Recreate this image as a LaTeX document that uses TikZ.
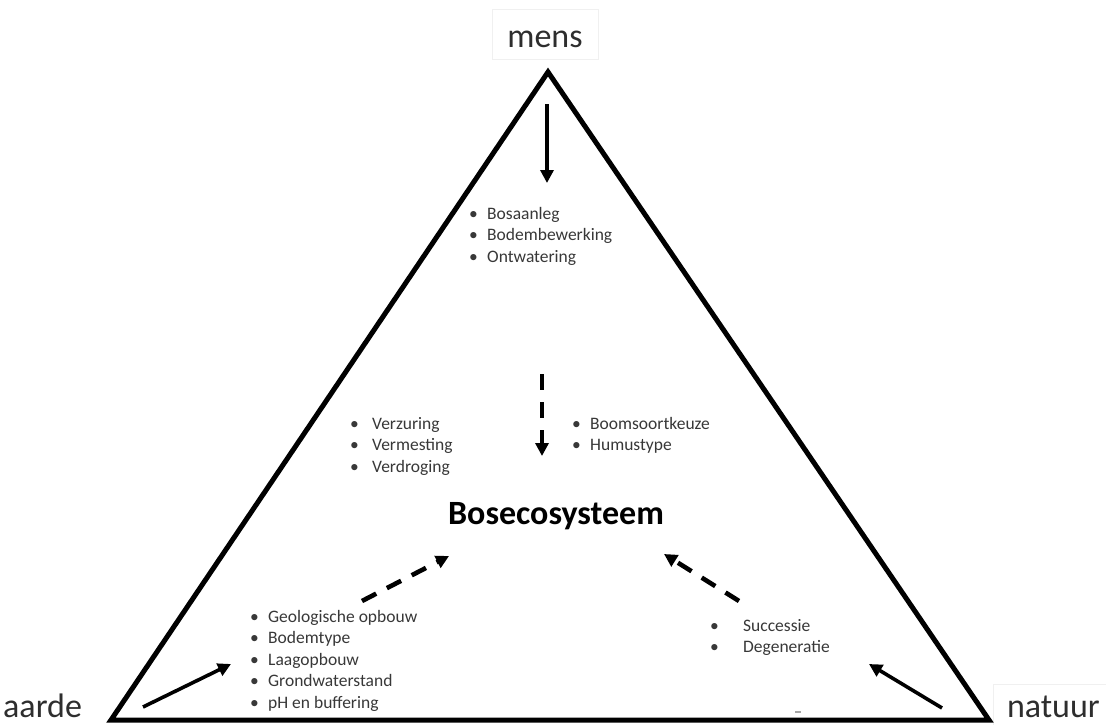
\documentclass[tikz,border=0pt]{standalone}
\usepackage{fontspec}
\setmainfont{Carlito}
\usetikzlibrary{arrows.meta}
\newcommand\bl[1]{\makebox[#1pt][l]{\textbullet}}
\tikzset{
  tri/.style={line width=5pt, line join=miter},
  solidarrow/.style={line width=3.6pt, -{Triangle[length=13pt,width=13pt]}},
  dasharrow/.style={line width=4.6pt, dash pattern=on 16pt off 12pt, -{Triangle[length=13pt,width=13pt]}},
  biglabel/.style={inner sep=0pt, text=black!82, font=\fontsize{34}{40}\selectfont},
  listtxt/.style={inner sep=0pt, text=black!78, font=\fontsize{17.5}{21.5}\selectfont, anchor=base west},
  faintbox/.style={draw=black!6, line width=1pt}
}
\begin{document}
\begin{tikzpicture}[x=1pt,y=-1pt]
\useasboundingbox[fill=white] (0,0) rectangle (1106,725);
% faint boxes around labels
\draw[faintbox] (492,10) rectangle (598,60);
\draw[faintbox] (993,684) rectangle (1106,725);
% triangle
\coordinate (top) at (548,72);
\coordinate (bl) at (111,720);
\coordinate (br) at (989,720);
\draw[tri] (top) -- (bl) -- (br) -- cycle;
% labels
\node[biglabel, anchor=base] (mens) at (545,48) {mens};
\node[biglabel, anchor=base west] (aarde) at (3,717) {aarde};
\node[biglabel, anchor=base east] (natuur) at (1100,717) {natuur};
\node[inner sep=0pt, anchor=base, font=\bfseries\fontsize{34}{40}\selectfont] (bos) at (556,524) {Bosecosysteem};
% lists
\node[listtxt] (lmens) at (469,219) {\begin{tabular}[t]{@{}l@{}}\bl{18}Bosaanleg\\\bl{18}Bodembewerking\\\bl{18}Ontwatering\end{tabular}};
\node[listtxt] (lverz) at (350,429) {\begin{tabular}[t]{@{}l@{}}\bl{22}Verzuring\\\bl{22}Vermesting\\\bl{22}Verdroging\end{tabular}};
\node[listtxt] (lboom) at (572,429) {\begin{tabular}[t]{@{}l@{}}\bl{18}Boomsoortkeuze\\\bl{18}Humustype\end{tabular}};
\node[listtxt] (laarde) at (250,622) {\begin{tabular}[t]{@{}l@{}}\bl{18}Geologische opbouw\\\bl{18}Bodemtype\\\bl{18}Laagopbouw\\\bl{18}Grondwaterstand\\\bl{18}pH en buffering\end{tabular}};
\node[listtxt] (lnat) at (710,631) {\begin{tabular}[t]{@{}l@{}}\bl{33}Successie\\\bl{33}Degeneratie\end{tabular}};
% arrow end points
\coordinate (m1) at (547,104);
\coordinate (m2) at (547,183);
\coordinate (a1) at (143,707);
\coordinate (a2) at (231,664);
\coordinate (n1) at (942,708);
\coordinate (n2) at (869,664);
\coordinate (d1) at (542,374);
\coordinate (d2) at (542,456);
\coordinate (e1) at (362,601);
\coordinate (e2) at (449,556);
\coordinate (f1) at (739,601);
\coordinate (f2) at (664,554);
% arrows
\draw[solidarrow] (m1) -- (m2);
\draw[solidarrow] (a1) -- (a2);
\draw[solidarrow] (n1) -- (n2);
\draw[dasharrow] (d1) -- (d2);
\draw[dasharrow] (e1) -- (e2);
\draw[dasharrow] (f1) -- (f2);
% small stray mark
\coordinate (s1) at (795,712);
\coordinate (s2) at (801,712);
\draw[black!35, line width=1.5pt] (s1) -- (s2);
\end{tikzpicture}
\end{document}
